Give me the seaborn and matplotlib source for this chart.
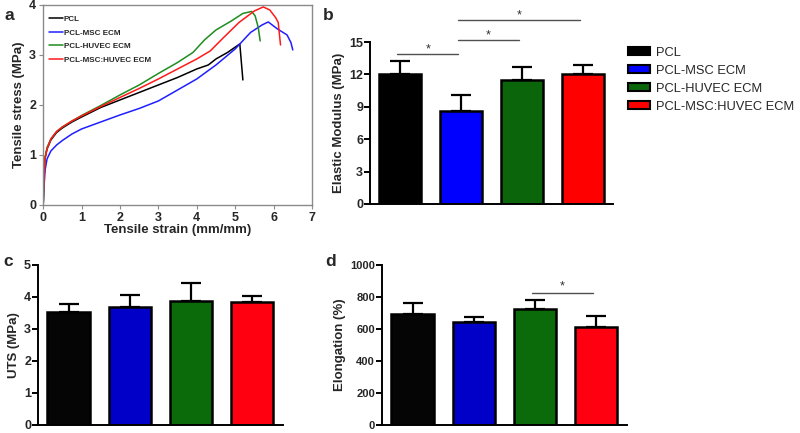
import matplotlib
matplotlib.use("Agg")
import matplotlib.pyplot as plt
import seaborn as sns
import pandas as pd
import numpy as np
from matplotlib.patches import Patch

sns.set_theme(style="white")
plt.rcParams['font.family'] = ['Liberation Sans', 'DejaVu Sans']

# ---------------- data ----------------
groups = ["PCL", "PCL-MSC ECM", "PCL-HUVEC ECM", "PCL-MSC:HUVEC ECM"]

# panel a: stress-strain curves (strain mm/mm, stress MPa)
pcl_strain = [0, 0.02, 0.05, 0.1, 0.2, 0.35, 0.5, 0.75, 1, 1.5, 2, 2.5, 3, 3.5, 4, 4.3, 4.5, 4.8, 5.12, 5.2]
pcl_stress = [0, 0.55, 0.95, 1.12, 1.3, 1.45, 1.54, 1.66, 1.76, 1.95, 2.1, 2.25, 2.4, 2.55, 2.72, 2.8, 2.92, 3.05, 3.22, 2.5]
msc_strain = [0, 0.02, 0.05, 0.1, 0.2, 0.35, 0.5, 0.75, 1, 1.5, 2, 2.5, 3, 3.5, 4, 4.5, 5, 5.4, 5.7, 5.86, 6.1, 6.35, 6.45, 6.5]
msc_stress = [0, 0.35, 0.7, 0.92, 1.08, 1.2, 1.29, 1.42, 1.52, 1.66, 1.8, 1.93, 2.08, 2.3, 2.52, 2.8, 3.12, 3.45, 3.6, 3.66, 3.52, 3.4, 3.25, 3.1]
huvec_strain = [0, 0.02, 0.05, 0.1, 0.2, 0.35, 0.5, 0.75, 1, 1.5, 2, 2.5, 3, 3.5, 3.9, 4.2, 4.5, 4.9, 5.2, 5.43, 5.52, 5.6, 5.65]
huvec_stress = [0, 0.55, 0.95, 1.15, 1.32, 1.47, 1.56, 1.68, 1.79, 1.99, 2.2, 2.4, 2.63, 2.85, 3.05, 3.3, 3.5, 3.68, 3.83, 3.87, 3.78, 3.55, 3.28]
mix_strain = [0, 0.02, 0.05, 0.1, 0.2, 0.35, 0.5, 0.75, 1, 1.5, 2, 2.5, 3, 3.5, 4, 4.35, 4.7, 5.1, 5.5, 5.73, 5.9, 6.05, 6.12, 6.18]
mix_stress = [0, 0.55, 0.92, 1.12, 1.32, 1.47, 1.56, 1.68, 1.78, 1.97, 2.15, 2.33, 2.52, 2.72, 2.92, 3.08, 3.35, 3.65, 3.88, 3.96, 3.9, 3.75, 3.65, 3.2]

# panel b: elastic modulus
modulus_mean = [12.0, 8.65, 11.5, 12.0]
modulus_err = [1.27, 1.45, 1.18, 0.9]
# panel c: UTS
uts_mean = [3.54, 3.70, 3.88, 3.85]
uts_err = [0.25, 0.37, 0.55, 0.17]
# panel d: elongation
elong_mean = [695, 644, 726, 611]
elong_err = [68, 31, 52, 70]

# significance brackets (group i, group j, height)
sig_b = [(0, 1, 13.9), (1, 2, 15.15), (1, 3, 17.0)]
sig_d = [(2, 3, 823)]

# ---------------- style ----------------
curve_colors = ["#000000", "#1f1fff", "#1e8c1e", "#ff1a1a"]
bar_colors_b = ["#000000", "#0000ff", "#0b650b", "#ff0000"]
bar_colors_cd = ["#050505", "#0000c8", "#0b6b0b", "#ff0010"]

fig = plt.figure(figsize=(8.0, 4.33), dpi=100)

# ---- panel a ----
ax_a = fig.add_axes([0.054, 0.5266, 0.336, 0.462])
curves = [(pcl_strain, pcl_stress), (msc_strain, msc_stress),
          (huvec_strain, huvec_stress), (mix_strain, mix_stress)]
for (xs, ys), name, col in zip(curves, groups, curve_colors):
    sns.lineplot(x=xs, y=ys, ax=ax_a, color=col, linewidth=1.1, sort=False,
                 estimator=None, label=name)
ax_a.set_xlim(0, 7)
ax_a.set_ylim(0, 4)
ax_a.set_xticks(range(0, 8))
ax_a.set_yticks(range(0, 5))
for s in ax_a.spines.values():
    s.set_visible(True)
    s.set_color("#8a8a8a")
    s.set_linewidth(1.0)
ax_a.tick_params(axis="both", direction="out", length=3, width=0.8, color="#8a8a8a",
                 labelsize=9, pad=2, bottom=True, left=True)
for lab in ax_a.get_xticklabels() + ax_a.get_yticklabels():
    lab.set_fontweight("bold")
ax_a.set_xlabel("Tensile strain (mm/mm)", fontsize=9.5, fontweight="bold", labelpad=0)
ax_a.set_ylabel("Tensile stress (MPa)", fontsize=9.5, fontweight="bold", labelpad=3)
leg_a = ax_a.legend(loc="upper left", frameon=False,
                    prop={"size": 5.8, "weight": "bold"},
                    handlelength=1.7, handletextpad=0.15, labelspacing=0.72,
                    borderaxespad=0.3, bbox_to_anchor=(0.0, 0.975))


def bar_panel(ax, means, errs, colors, ylim, yticks, ylabel, ticksize=9):
    df = pd.DataFrame({"group": groups, "value": means})
    sns.barplot(data=df, x="group", y="value", hue="group", palette=colors,
                order=groups, hue_order=groups, width=0.69, edgecolor="black",
                linewidth=1.8, saturation=1, legend=False, ax=ax, zorder=2)
    ax.errorbar(range(len(groups)), means, yerr=[np.zeros(len(errs)), errs],
                fmt="none", ecolor="black", elinewidth=1.6, capsize=7,
                capthick=1.6, zorder=1)
    ax.set_xlim(-0.5, 3.5)
    ax.set_ylim(*ylim)
    ax.set_yticks(yticks)
    ax.set_xticks([])
    ax.set_xlabel("")
    ax.set_ylabel(ylabel, fontsize=9.5, fontweight="bold", labelpad=3)
    for side in ["top", "right"]:
        ax.spines[side].set_visible(False)
    for side in ["left", "bottom"]:
        ax.spines[side].set_color("black")
        ax.spines[side].set_linewidth(1.4)
    ax.tick_params(axis="y", direction="out", length=4, width=1.4, color="black",
                   labelsize=ticksize, pad=1, left=True)
    for lab in ax.get_yticklabels():
        lab.set_fontweight("bold")


def sig(ax, pairs, dy):
    for i, j, h in pairs:
        ax.plot([i - 0.05, j - 0.05], [h, h], color="#505050", linewidth=1.0,
                clip_on=False)
        ax.text((i + j) / 2 - 0.05, h + dy, "*", ha="center", va="bottom",
                fontsize=9, color="#303030", clip_on=False)

# ---- panel b ----
ax_b = fig.add_axes([0.4625, 0.529, 0.304, 0.374])
bar_panel(ax_b, modulus_mean, modulus_err, bar_colors_b, (0, 15),
          [0, 3, 6, 9, 12, 15], "Elastic Modulus (MPa)")
sig(ax_b, sig_b, -0.1)

# legend for b
handles = [Patch(facecolor=c, edgecolor="black", linewidth=1.5) for c in bar_colors_b]
fig.legend(handles, groups, loc="upper left", bbox_to_anchor=(0.785, 0.892),
           frameon=False, fontsize=9.3, handlelength=1.7, handleheight=0.6,
           handletextpad=0.5, labelspacing=0.46, borderaxespad=0, borderpad=0)

# ---- panel c ----
ax_c = fig.add_axes([0.0475, 0.019, 0.306, 0.369])
bar_panel(ax_c, uts_mean, uts_err, bar_colors_cd, (0, 5), [0, 1, 2, 3, 4, 5], "UTS (MPa)")

# ---- panel d ----
ax_d = fig.add_axes([0.4775, 0.019, 0.306, 0.369])
bar_panel(ax_d, elong_mean, elong_err, bar_colors_cd, (0, 1000),
          [0, 200, 400, 600, 800, 1000], "Elongation (%)", ticksize=8)
sig(ax_d, sig_d, 5)

# panel letters
for lbl, x, y in [("a", 0.006, 0.965), ("b", 0.404, 0.965), ("c", 0.004, 0.395), ("d", 0.406, 0.395)]:
    fig.text(x, y, lbl, fontsize=12.5, fontweight="bold", ha="left", va="center")

fig.savefig("out.png", dpi=100)
